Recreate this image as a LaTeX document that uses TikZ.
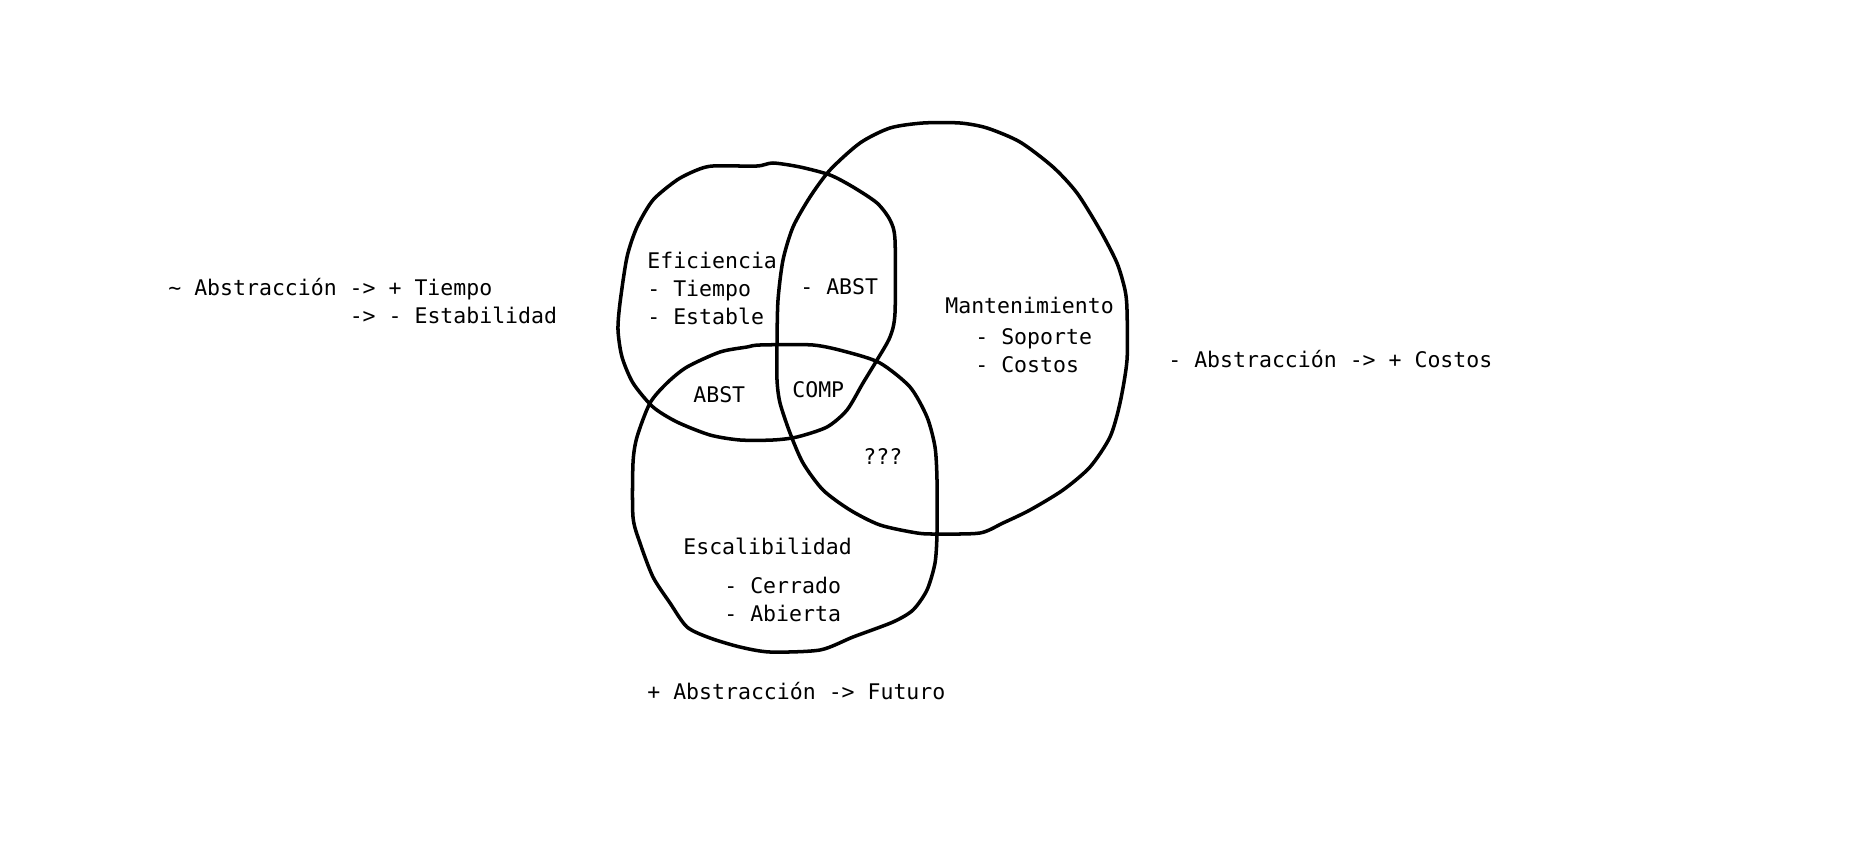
\documentclass[tikz,border=0pt]{standalone}
\usepackage{fontspec}
\setmonofont{DejaVu Sans Mono}
\tikzstyle{blob} = [line width=2pt, black, line join=round]
\tikzstyle{txt} = [anchor=base west, inner sep=0pt, align=left, font=\ttfamily\fontsize{12.25}{15.9}\selectfont]

\begin{document}
\begin{tikzpicture}[x=0.02cm, y=-0.02cm]

    \useasboundingbox (0,0) rectangle (1875,858);

    % Eficiencia
    \draw [blob] plot [smooth cycle, tension=0.45] coordinates {
        (697,170) (713,166) (757,166) (773,163) (800,167) (830,175) (853,187) (877,203)
        (890,220) (895,240) (895,313) (890,337) (877,360) (863,383) (847,410) (827,427)
        (797,437) (773,440) (740,440) (710,435) (677,422) (653,407) (633,383) (622,357)
        (618,330) (620,303) (627,257) (637,227) (653,200) (677,180)};

    % Mantenimiento
    \draw [blob] plot [smooth cycle, tension=0.45] coordinates {
        (923,123) (960,123) (987,128) (1020,142) (1053,167) (1077,193) (1100,230) (1117,263)
        (1125,290) (1127,310) (1127,360) (1120,403) (1110,437) (1090,467) (1063,490) (1030,510)
        (1003,523) (980,533) (937,534) (917,533) (880,525) (850,510) (823,490) (803,463)
        (790,433) (780,403) (777,380) (777,343) (778,300) (783,260) (793,227) (810,197)
        (830,170) (860,143) (890,128)};

    % Escalibilidad
    \draw [blob] plot [smooth cycle, tension=0.45] coordinates {
        (747,347) (760,345) (813,345) (847,352) (880,363) (910,387) (927,417) (935,447)
        (937,480) (937,533) (935,563) (927,590) (913,610) (893,622) (853,637) (820,650)
        (770,652) (740,647) (710,638) (687,627) (670,603) (653,577) (640,543) (633,517)
        (633,463) (637,437) (650,403) (667,383) (687,367) (720,352)};

    % base anchor sits on the last line
    \node (eficiencia) [txt] at (647,324) {Eficiencia\\- Tiempo\\- Estable};
    \node (abst_em) [txt] at (800,294) {- ABST};
    \node (mantenimiento) [txt] at (945,313) {Mantenimiento};
    \node (mant_items) [txt] at (975,372) {- Soporte\\- Costos};
    \node (abst_es) [txt] at (693,402) {ABST};
    \node (comp) [txt] at (792,397) {COMP};
    \node (unknown) [txt] at (863,464) {???};
    \node (escalabilidad) [txt] at (683,554) {Escalibilidad};
    \node (esc_items) [txt] at (724,621) {- Cerrado\\- Abierta};

    \node (note_left) [txt] at (168,323) {\textasciitilde{} Abstracción -> + Tiempo\\\hphantom{\textasciitilde{} Abstracción }-> - Estabilidad};
    \node (note_right) [txt] at (1168,367) {- Abstracción -> + Costos};
    \node (note_bottom) [txt] at (647,699) {+ Abstracción -> Futuro};

\end{tikzpicture}
\end{document}
